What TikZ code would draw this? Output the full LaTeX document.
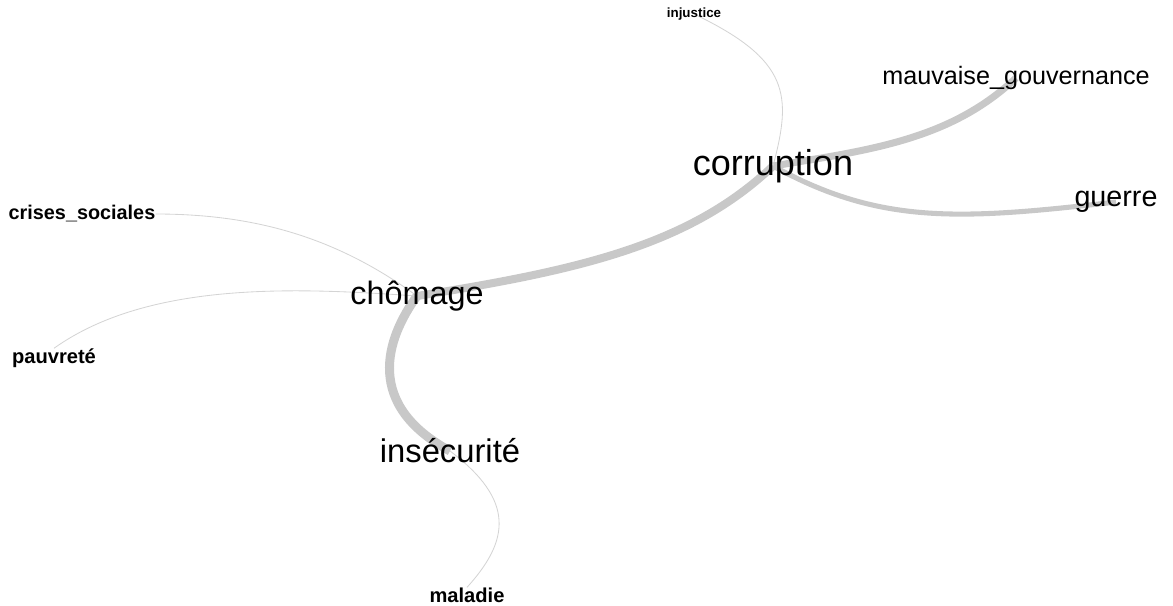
\documentclass[tikz,border=0pt]{standalone}
\usepackage{fontspec}
\setmainfont{Liberation Sans}
\usetikzlibrary{backgrounds}
\definecolor{edgegray}{RGB}{200,200,200}
\definecolor{thingray}{RGB}{212,212,212}
\begin{document}
\begin{tikzpicture}[x=0.025cm,y=-0.025cm,
  word/.style={inner sep=0pt,font=\fontsize{#1}{#1}\selectfont},
  small word/.style={inner sep=0pt,font=\fontsize{#1}{#1}\selectfont\bfseries},
  link/.style={draw=edgegray,line width=#1},
  thin link/.style={draw=thingray,line width=0.6pt}]
\useasboundingbox (0,0) rectangle (1173,606);
\node[small word=9.5] (injustice) at (694,14) {injustice};
\node[word=17.9] (mauvaise) at (1016,78) {mauvaise\_gouvernance};
\node[word=25.6] (corruption) at (773,166) {corruption};
\node[word=20.4] (guerre) at (1116,202) {guerre};
\node[small word=14.1] (crises) at (82,214) {crises\_sociales};
\node[word=23] (chomage) at (417,296) {chômage};
\node[small word=14.3] (pauvrete) at (54,358) {pauvreté};
\node[word=23.3] (insecurite) at (450,451) {insécurité};
\node[small word=14.3] (maladie) at (467,595) {maladie};
\begin{scope}[on background layer]
\draw[link=5.7pt] (chomage.center) .. controls (580,270) and (690,245) .. (corruption.center);
\draw[link=6.4pt] (chomage.center) .. controls (385,340) and (365,405) .. (insecurite.center);
\draw[link=5pt] (corruption.center) .. controls (870,150) and (950,140) .. (mauvaise.center);
\draw[link=3.6pt] (corruption.center) .. controls (880,225) and (960,220) .. (guerre.center);
\draw[thin link] (corruption.center) .. controls (792,95) and (790,60) .. (injustice.center);
\draw[thin link] (insecurite.center) .. controls (515,500) and (510,540) .. (maladie.north);
\draw[thin link] (chomage.center) .. controls (340,240) and (260,214) .. (crises.east);
\draw[thin link] (chomage.center) .. controls (300,288) and (150,280) .. (pauvrete.north);
\end{scope}
\end{tikzpicture}
\end{document}
